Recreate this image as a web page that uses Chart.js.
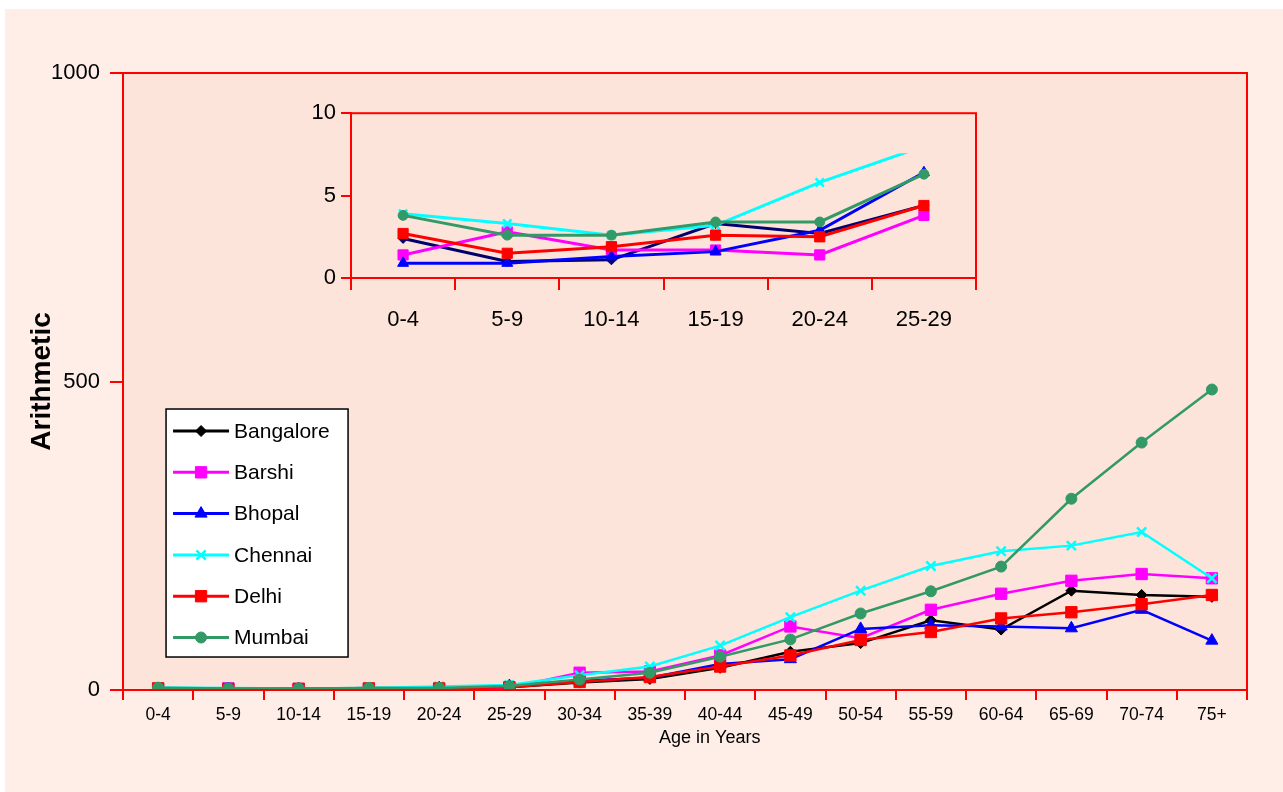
<!DOCTYPE html>
<html>
<head>
<meta charset="utf-8">
<script src="https://cdn.jsdelivr.net/npm/chart.js@4.4.0/dist/chart.umd.min.js"></script>
<style>
  html, body { margin:0; padding:0; background:#fff; }
  body { width:1283px; height:792px; position:relative; overflow:hidden; }
  #panel { position:absolute; left:5px; top:9px; width:1278px; height:783px; background:#feeee7; }
  #main { position:absolute; left:0; top:0; }
  #inset { position:absolute; left:280px; top:95px; }
</style>
</head>
<body>
<div id="panel"></div>
<canvas id="main" width="1283" height="792"></canvas>
<canvas id="inset" width="720" height="250"></canvas>
<script>
// age groups on the x axis
var ageGroups = ['0-4','5-9','10-14','15-19','20-24','25-29','30-34','35-39','40-44','45-49','50-54','55-59','60-64','65-69','70-74','75+'];
var cityNames = ['Bangalore','Barshi','Bhopal','Chennai','Delhi','Mumbai'];

// rates per city (first six also shown in the inset)
var bangalore = [2.4, 1.0, 1.1, 3.3, 2.7, 4.4, 12, 18, 36, 62, 76, 113, 98, 161, 154, 151];
var barshi    = [1.4, 2.8, 1.7, 1.7, 1.4, 3.8, 28, 30, 56, 103, 84, 130, 156, 177, 188, 181];
var bhopal    = [0.9, 0.9, 1.3, 1.6, 2.9, 6.4, 15, 20, 42, 50, 99, 105, 103, 100, 130, 80];
var chennai   = [3.9, 3.3, 2.6, 3.2, 5.8, 8.0, 24, 38, 72, 118, 161, 201, 225, 234, 256, 181];
var delhi     = [2.7, 1.5, 1.9, 2.6, 2.5, 4.4, 13, 21, 38, 56, 81, 94, 116, 126, 139, 154];
var mumbai    = [3.8, 2.6, 2.6, 3.4, 3.4, 6.3, 17, 28, 54, 82, 124, 160, 200, 310, 401, 487];

var mainTicks = [0, 500, 1000];
var insetTicks = [0, 5, 10];
var insetCount = 6;

var allSeries = [bangalore, barshi, bhopal, chennai, delhi, mumbai];

var FONT = "'Liberation Sans', Arial, Helvetica, sans-serif";
var cityStyle = [
  {color:'#000000', inset:'#000070', point:'rectRot', r:5.5},
  {color:'#ff00ff', inset:'#ff00ff', point:'rect', r:8},
  {color:'#0000ff', inset:'#0000ff', point:'triangle', r:7},
  {color:'#00ffff', inset:'#00ffff', point:'crossRot', r:6.5},
  {color:'#ff0000', inset:'#ff0000', point:'rect', r:8},
  {color:'#339966', inset:'#339966', point:'circle', r:5.5}
];

function makeSets(n, inset) {
  return allSeries.map(function(s, i) {
    var st = cityStyle[i];
    var col = inset ? st.inset : st.color;
    var ds = {
      label: cityNames[i],
      data: s.slice(0, n),
      borderColor: col,
      backgroundColor: col,
      pointBackgroundColor: col,
      pointBorderColor: col,
      pointBorderWidth: st.point === 'crossRot' ? 2.5 : 1,
      pointStyle: st.point,
      pointRadius: inset ? st.r * 0.9 : st.r,
      borderWidth: inset ? 3 : 2.5,
      tension: 0,
      order: 6 - i
    };
    if (inset && cityNames[i] === 'Chennai') {
      ds.clip = {left: 10, top: -40, right: 10, bottom: 10};
    }
    return ds;
  });
}

// fill plot area, draw red frame
var boxPlugin = {
  id: 'box',
  beforeDraw: function(chart) {
    var a = chart.chartArea, c = chart.ctx;
    c.save();
    c.fillStyle = '#fde4da';
    c.fillRect(a.left, a.top, a.right - a.left, a.bottom - a.top);
    c.restore();
  },
  afterDatasetsDraw: function(chart) {
    var a = chart.chartArea, c = chart.ctx;
    c.save();
    c.strokeStyle = '#ff0000';
    c.lineWidth = 2;
    c.strokeRect(a.left, a.top, a.right - a.left, a.bottom - a.top);
    c.restore();
  }
};

var cityLegend = {
  id: 'cityLegend',
  afterDraw: function(chart) {
    var a = chart.chartArea, ctx = chart.ctx;
    var x = a.left + 0.0383 * (a.right - a.left);
    var y = a.top + 0.5446 * (a.bottom - a.top);
    var w = 182, h = 248;
    ctx.save();
    ctx.fillStyle = '#ffffff';
    ctx.fillRect(x, y, w, h);
    ctx.strokeStyle = '#000000';
    ctx.lineWidth = 1.5;
    ctx.strokeRect(x, y, w, h);
    chart.data.datasets.forEach(function(ds, i) {
      var cy = y + 22 + i * 41.3;
      ctx.strokeStyle = ds.borderColor;
      ctx.lineWidth = 3;
      ctx.beginPath();
      ctx.moveTo(x + 7, cy);
      ctx.lineTo(x + 63, cy);
      ctx.stroke();
      ctx.fillStyle = ds.pointBackgroundColor;
      ctx.strokeStyle = ds.pointBorderColor;
      ctx.lineWidth = ds.pointBorderWidth;
      Chart.helpers.drawPoint(ctx, {pointStyle: ds.pointStyle, radius: ds.pointRadius, rotation: 0, borderWidth: ds.pointBorderWidth}, x + 35, cy);
      ctx.fillStyle = '#000000';
      ctx.font = '21px ' + FONT;
      ctx.textBaseline = 'middle';
      ctx.textAlign = 'left';
      ctx.fillText(ds.label, x + 68, cy + 1);
    });
    ctx.restore();
  }
};

var xTitle = {
  id: 'xTitle',
  afterDraw: function(chart) {
    var a = chart.chartArea, ctx = chart.ctx;
    ctx.save();
    ctx.fillStyle = '#000000';
    ctx.font = '18px ' + FONT;
    ctx.textAlign = 'center';
    ctx.textBaseline = 'middle';
    ctx.fillText('Age in Years', a.left + 0.522 * (a.right - a.left), a.bottom + 48);
    ctx.restore();
  }
};

function plainNum(v) { return String(v); }

var mainChart = new Chart(document.getElementById('main'), {
  type: 'line',
  data: { labels: ageGroups, datasets: makeSets(ageGroups.length, false) },
  options: {
    responsive: false,
    animation: false,
    layout: { padding: { left: 0, top: 73, right: 36, bottom: 0 } },
    plugins: { legend: { display: false }, tooltip: { enabled: false } },
    scales: {
      x: {
        offset: true,
        grid: { drawOnChartArea: false, color: '#ff0000', lineWidth: 2, tickLength: 10, offset: true },
        border: { color: '#ff0000', width: 2 },
        ticks: { color: '#000', font: { family: FONT, size: 17.5 }, padding: 5, maxRotation: 0, autoSkip: false },
        afterFit: function(s) { s.height = 102; }
      },
      y: {
        min: 0, max: 1000,
        afterBuildTicks: function(s) { s.ticks = mainTicks.map(function(v) { return {value: v}; }); },
        grid: { drawOnChartArea: false, color: '#ff0000', lineWidth: 2, tickLength: 13 },
        border: { color: '#ff0000', width: 2 },
        ticks: { color: '#000', font: { family: FONT, size: 22 }, padding: 10, callback: plainNum },
        title: { display: true, text: 'Arithmetic', color: '#000', font: { family: FONT, size: 28, weight: 'bold' }, padding: { top: 25, bottom: 0 } },
        afterFit: function(s) { s.width = 123; }
      }
    }
  },
  plugins: [boxPlugin, cityLegend, xTitle]
});

var insetChart = new Chart(document.getElementById('inset'), {
  type: 'line',
  data: { labels: ageGroups.slice(0, insetCount), datasets: makeSets(insetCount, true) },
  options: {
    responsive: false,
    animation: false,
    layout: { padding: { left: 0, top: 15, right: 24, bottom: 0 } },
    plugins: { legend: { display: false }, tooltip: { enabled: false } },
    scales: {
      x: {
        offset: true,
        grid: { drawOnChartArea: false, color: '#ff0000', lineWidth: 2, tickLength: 12, offset: true },
        border: { color: '#ff0000', width: 2 },
        ticks: { color: '#000', font: { family: FONT, size: 22 }, padding: 17, maxRotation: 0, autoSkip: false },
        afterFit: function(s) { s.height = 67; }
      },
      y: {
        min: 0, max: 10,
        afterBuildTicks: function(s) { s.ticks = insetTicks.map(function(v) { return {value: v}; }); },
        grid: { drawOnChartArea: false, color: '#ff0000', lineWidth: 2, tickLength: 10 },
        border: { color: '#ff0000', width: 2 },
        ticks: { color: '#000', font: { family: FONT, size: 22 }, padding: 5, callback: plainNum },
        afterFit: function(s) { s.width = 71; }
      }
    }
  },
  plugins: [boxPlugin]
});
</script>
</body>
</html>
